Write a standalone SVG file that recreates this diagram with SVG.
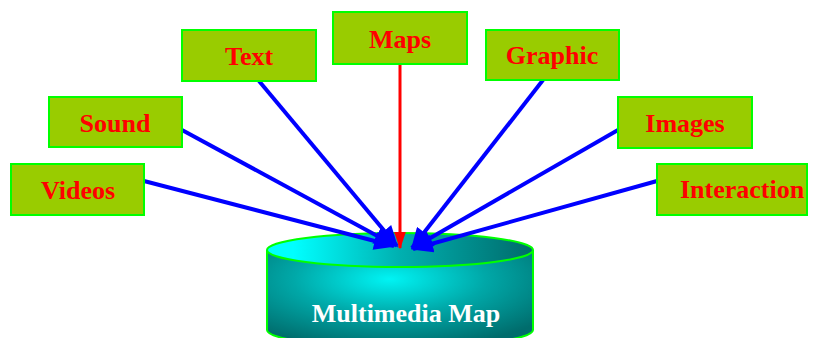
<svg xmlns="http://www.w3.org/2000/svg" width="816" height="338" viewBox="0 0 816 338">
<style>
.box{fill:#99cc00;stroke:#00ff00;stroke-width:2}
.lbl{font-family:"Liberation Serif",serif;font-weight:bold;font-size:26px;fill:#ff0000;text-anchor:middle}
.c{stroke:#0000ff;stroke-width:4;fill:none}
</style>
<defs>
<marker id="ab" viewBox="0 0 12 10" refX="11" refY="5" markerWidth="5.5" markerHeight="4.5" markerUnits="strokeWidth" orient="auto">
<path d="M0,0 L12,5 L0,10 Z" fill="#0000ff"/>
</marker>
<marker id="ar" viewBox="0 0 12 8" refX="11" refY="4" markerWidth="6" markerHeight="4" markerUnits="strokeWidth" orient="auto">
<path d="M0,0 L12,4 L0,8 Z" fill="#ff0000"/>
</marker>
<radialGradient id="gb" cx="0.46" cy="0.3" r="0.72">
<stop offset="0" stop-color="#00f4f4"/>
<stop offset="0.5" stop-color="#00a8a8"/>
<stop offset="1" stop-color="#006c6c"/>
</radialGradient>
<linearGradient id="gt" x1="0" y1="0" x2="1" y2="0">
<stop offset="0.1" stop-color="#00ffff"/>
<stop offset="0.5" stop-color="#00b0b0"/>
<stop offset="1" stop-color="#006a6a"/>
</linearGradient>
</defs>
<g id="db">
<path d="M267,250 L267,330 A133,17 0 0 0 533,330 L533,250" fill="url(#gb)" stroke="#00ff00" stroke-width="2"/>
<ellipse cx="400" cy="250" rx="133" ry="17" fill="url(#gt)" stroke="#00ff00" stroke-width="2"/>
<text x="406" y="322" font-family="Liberation Serif,serif" font-weight="bold" font-size="26" fill="#ffffff" text-anchor="middle">Multimedia Map</text>
</g>
<g id="connectors">
<line class="c" x1="144" y1="181" x2="394" y2="246" marker-end="url(#ab)"/>
<line class="c" x1="182" y1="130" x2="394" y2="245" marker-end="url(#ab)"/>
<line class="c" x1="259" y1="81" x2="397" y2="246" marker-end="url(#ab)"/>
<line x1="400" y1="64" x2="400" y2="248" stroke="#ff0000" stroke-width="3" marker-end="url(#ar)"/>
<line class="c" x1="543" y1="80" x2="412" y2="248" marker-end="url(#ab)"/>
<line class="c" x1="618" y1="130" x2="413" y2="248" marker-end="url(#ab)"/>
<line class="c" x1="657" y1="181" x2="413" y2="249" marker-end="url(#ab)"/>
</g>
<g id="videos"><rect class="box" x="11" y="164" width="133" height="51"/><text class="lbl" x="78" y="199">Videos</text></g>
<g id="sound"><rect class="box" x="49" y="97" width="133" height="50"/><text class="lbl" x="115" y="132">Sound</text></g>
<g id="text"><rect class="box" x="182" y="30" width="134" height="51"/><text class="lbl" x="249" y="65">Text</text></g>
<g id="maps"><rect class="box" x="333" y="12" width="134" height="52"/><text class="lbl" x="400" y="48">Maps</text></g>
<g id="graphic"><rect class="box" x="486" y="30" width="133" height="50"/><text class="lbl" x="552" y="64">Graphic</text></g>
<g id="images"><rect class="box" x="618" y="97" width="134" height="51"/><text class="lbl" x="685" y="132">Images</text></g>
<g id="interaction"><rect class="box" x="657" y="164" width="150" height="51"/><text class="lbl" x="742" y="198">Interaction</text></g>
</svg>
